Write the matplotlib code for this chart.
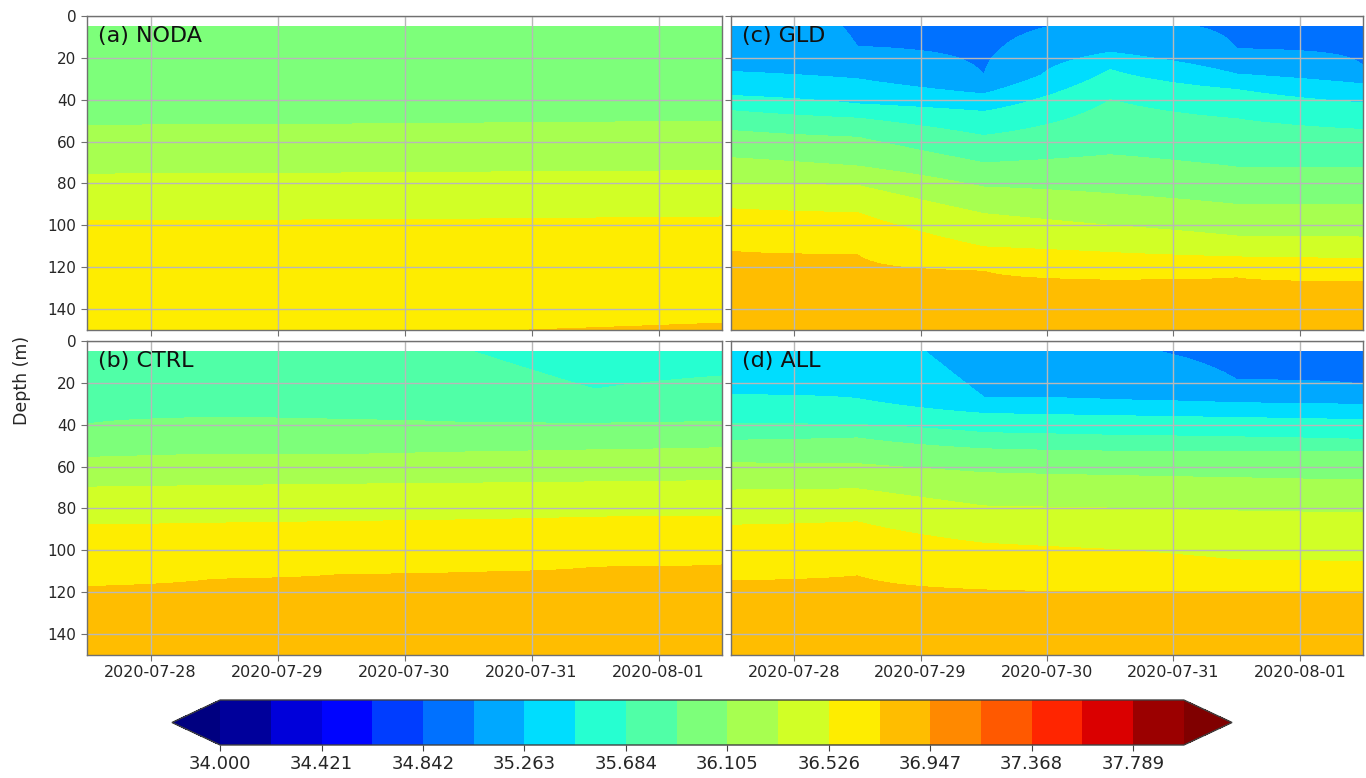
import numpy as np
import pandas as pd
import matplotlib
matplotlib.use("Agg")
import matplotlib.pyplot as plt
import matplotlib.dates as mdates

# salinity contour levels (psu)
levels = np.linspace(34.0, 38.0, 20)

# daily model output at 12:00
times = pd.date_range("2020-07-27 12:00", periods=6, freq="D")
date_ticks = pd.date_range("2020-07-28", "2020-08-01", freq="D")

# depth (m) of each isohaline at each output time; rows follow the level
# indices in *_bounds (negative = above the sea surface, >150 = below the section)
noda_bounds = [9, 10, 11, 12, 13, 14]
noda_depth = [
    [-40, -40, -40, -40, -40, -40],
    [52.2, 52.0, 51.7, 51.3, 50.8, 50.4],
    [75.5, 75.4, 75.0, 74.6, 74.2, 73.9],
    [97.9, 97.6, 97.3, 97.0, 96.5, 96.0],
    [170, 162, 156, 151.1, 148.9, 146.7],
    [200, 200, 200, 200, 200, 200],
]

ctrl_bounds = [7, 8, 9, 10, 11, 12, 13, 14]
ctrl_depth = [
    [-80, -80, -60, -40, -10, -15],
    [-15, -12, -5, 4.2, 23.0, 16.7],
    [39.7, 36.5, 37.5, 39.0, 39.3, 38.5],
    [55.6, 54.0, 54.3, 53.0, 52.0, 51.0],
    [69.8, 69.0, 68.4, 67.9, 67.3, 66.7],
    [87.8, 87.0, 86.2, 85.4, 84.1, 83.8],
    [117.3, 113.8, 111.5, 110.5, 108.0, 107.0],
    [180, 180, 180, 180, 180, 180],
]

gld_bounds = [4, 5, 6, 7, 8, 9, 10, 11, 12, 13, 14]
gld_depth = [
    [-150, -100, -60, -150, -80, -60],
    [-30, 14.5, 28.1, 0.9, 15.6, 23.7],
    [26.5, 30.0, 37.2, 17.3, 27.7, 32.4],
    [38.0, 42.0, 45.6, 25.6, 35.1, 41.5],
    [45.2, 48.8, 57.1, 39.9, 49.1, 54.2],
    [54.7, 57.9, 70.1, 66.3, 72.2, 72.2],
    [67.7, 71.7, 81.7, 84.9, 90.0, 90.1],
    [80.1, 80.9, 94.4, 100.0, 105.1, 105.6],
    [92.1, 94.0, 110.3, 113.0, 115.1, 115.9],
    [112.4, 114.0, 121.9, 126.2, 125.1, 127.0],
    [180, 180, 180, 180, 180, 180],
]

all_bounds = [4, 5, 6, 7, 8, 9, 10, 11, 12, 13, 14]
all_depth = [
    [-150, -150, -150, -150, -40, -30],
    [-100, -80, -20, 1.0, 18.4, 20.8],
    [-40, -22, 26.8, 28.0, 29.5, 30.3],
    [25.6, 27.5, 34.6, 35.6, 36.5, 37.5],
    [39.4, 39.9, 43.8, 45.0, 45.8, 47.0],
    [47.4, 46.3, 51.5, 52.6, 52.8, 53.0],
    [58.2, 58.6, 62.9, 64.2, 65.3, 66.4],
    [71.2, 70.6, 78.8, 79.8, 81.2, 82.0],
    [88.0, 86.4, 96.6, 99.5, 104.6, 105.5],
    [114.6, 112.2, 118.9, 119.8, 119.8, 119.8],
    [180, 180, 180, 180, 180, 180],
]

# model depth axis of the section
z = np.arange(5.0, 150.05, 0.1)


def section(bounds, depth):
    """Salinity profile at each time, rebuilt from the isohaline depths."""
    depth = np.asarray(depth, dtype=float)
    sal = levels[bounds]
    prof = [np.interp(z, depth[:, j], sal) for j in range(depth.shape[1])]
    return np.array(prof).T


panels = [
    ("(a) NODA", noda_bounds, noda_depth),
    ("(c) GLD", gld_bounds, gld_depth),
    ("(b) CTRL", ctrl_bounds, ctrl_depth),
    ("(d) ALL", all_bounds, all_depth),
]

W, H = 1366, 778
fig = plt.figure(figsize=(W / 100, H / 100), dpi=100)

# axes boxes in pixels: left, top, right, bottom
boxes = [
    (87, 16, 722, 330),
    (731, 16, 1363, 330),
    (87, 341, 722, 655),
    (731, 341, 1363, 655),
]

tnum = mdates.date2num(times.to_pydatetime())
cs = None
for i, ((label, bounds, depth), (l, t, r, b)) in enumerate(zip(panels, boxes)):
    ax = fig.add_axes([l / W, 1 - b / H, (r - l) / W, (b - t) / H])
    sal = section(bounds, depth)
    cs = ax.contourf(tnum, z, sal, levels=levels, cmap="jet", extend="both")
    ax.set_ylim(150, 0)
    ax.set_xlim(tnum[0], tnum[-1])
    ax.set_yticks(np.arange(0, 141, 20))
    ax.set_xticks(mdates.date2num(date_ticks.to_pydatetime()))
    ax.xaxis.set_major_formatter(mdates.DateFormatter("%Y-%m-%d"))
    ax.grid(True, color="#b8b8b8", linewidth=1.0)
    for sp in ax.spines.values():
        sp.set_color("#707070")
        sp.set_linewidth(1.0)
    ax.tick_params(direction="out", length=4, color="#707070",
                   labelcolor="#262626")
    ax.tick_params(axis="x", labelsize=11.5)
    ax.tick_params(axis="y", labelsize=11)
    if i in (1, 3):
        ax.tick_params(axis="y", labelleft=False)
    if i in (0, 1):
        ax.tick_params(axis="x", labelbottom=False)
    ax.text(0.017, 0.936, label, transform=ax.transAxes, fontsize=16,
            va="center", ha="left", color="#111111")

fig.text(22 / W, 1 - 380 / H, "Depth (m)", rotation=90, fontsize=12.5,
         va="center", ha="center", color="#262626")

# colorbar axes span the extension triangles as well
cax = fig.add_axes([172 / W, 1 - 745 / H, 1060 / W, 45 / H])
cb = fig.colorbar(cs, cax=cax, orientation="horizontal",
                  ticks=levels[::2], format="%.3f")
cb.outline.set_edgecolor("#404040")
cb.outline.set_linewidth(1.0)
cax.tick_params(labelsize=13, length=4, color="#404040", labelcolor="#262626")

fig.savefig("out.png", dpi=100)
